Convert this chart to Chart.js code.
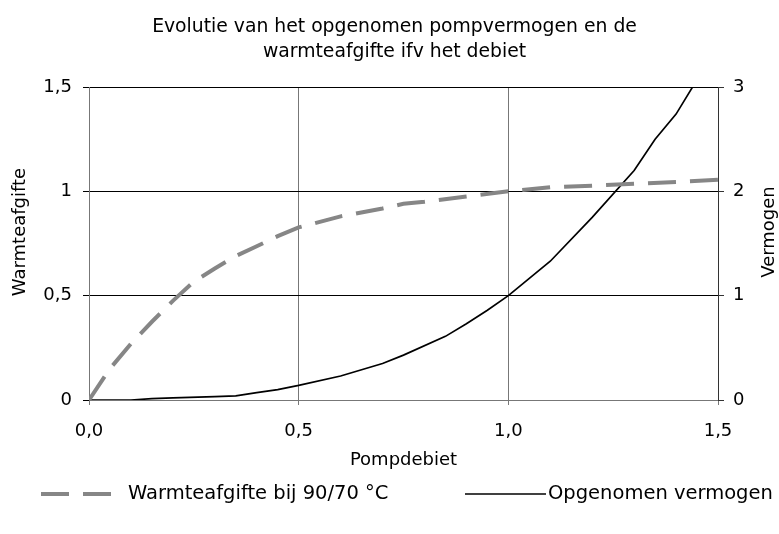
<!DOCTYPE html>
<html>
<head>
<meta charset="utf-8">
<script src="https://cdn.jsdelivr.net/npm/chart.js@4/dist/chart.umd.min.js"></script>
<style>
  body { margin: 0; background: #fff; }
  #wrap { width: 779px; height: 534px; }
</style>
</head>
<body>
<div id="wrap"><canvas id="grafiek"></canvas></div>
<script>
// data
const debietWarmte = [0, 0.05, 0.1, 0.15, 0.2, 0.25, 0.3, 0.35, 0.4, 0.45, 0.5, 0.6, 0.7, 0.75, 0.8, 0.9, 1.0, 1.1, 1.2, 1.3, 1.4, 1.5]
const warmteafgifte = [0, 0.15, 0.27, 0.375, 0.475, 0.567, 0.63, 0.69, 0.737, 0.785, 0.827, 0.88, 0.918, 0.94, 0.95, 0.975, 1.0, 1.02, 1.027, 1.036, 1.045, 1.055]

const debietVermogen = [0, 0.1, 0.15, 0.2, 0.3, 0.35, 0.4, 0.45, 0.5, 0.6, 0.7, 0.75, 0.85, 0.9, 0.95, 1.0, 1.1, 1.2, 1.3, 1.35, 1.4, 1.45]
const vermogen = [0, 0, 0.013, 0.02, 0.033, 0.04, 0.07, 0.1, 0.14, 0.23, 0.35, 0.43, 0.61, 0.73, 0.86, 1.0, 1.33, 1.75, 2.2, 2.5, 2.74, 3.07]

const xTicks = [0, 0.5, 1.0, 1.5]
const yLinksTicks = [0, 0.5, 1, 1.5]
const yRechtsTicks = [0, 1, 2, 3]

const titel = ['Evolutie van het opgenomen pompvermogen en de', 'warmteafgifte ifv het debiet']
const labels = ['Warmteafgifte bij 90/70 °C', 'Opgenomen vermogen']

const grijs = '#868686'
const lijnGrijs = '#777'
const fontNaam = 'DejaVu Sans'

Chart.defaults.font.family = fontNaam
Chart.defaults.font.size = 18
Chart.defaults.color = '#000'

const komma = v => String(v).replace('.', ',')

// as-titels (leesrichting van onder naar boven) en legende zelf tekenen
const extraTekst = {
    id: 'extraTekst',
    afterDraw(chart) {
        const ctx = chart.ctx
        ctx.save()
        ctx.font = `18px "${fontNaam}"`
        ctx.fillStyle = '#000'
        ctx.textBaseline = 'middle'

        const asTitels = [[20, 'Warmteafgifte'], [769, 'Vermogen']]
        asTitels.forEach(([x, tekst]) => {
            ctx.save()
            ctx.translate(x, 232)
            ctx.rotate(-Math.PI / 2)
            ctx.textAlign = 'center'
            ctx.fillText(tekst, 0, 0)
            ctx.restore()
        })

        // legende
        ctx.font = `19.5px "${fontNaam}"`
        const legY = 494
        const items = [
            { x0: 41, x1: 115, tx: 128 },
            { x0: 465, x1: 546, tx: 548 }
        ]
        chart.data.datasets.forEach((ds, i) => {
            const it = items[i]
            ctx.save()
            ctx.strokeStyle = ds.borderColor
            ctx.lineWidth = ds.borderWidth
            ctx.setLineDash(ds.borderDash || [])
            ctx.beginPath()
            ctx.moveTo(it.x0, legY)
            ctx.lineTo(it.x1, legY)
            ctx.stroke()
            ctx.restore()
            ctx.textAlign = 'left'
            ctx.fillText(ds.label, it.tx, legY)
        })
        ctx.restore()
    }
}

new Chart(document.getElementById('grafiek'), {
    type: 'scatter',
    data: {
        datasets: [{
            label: labels[0],
            data: debietWarmte.map((x, i) => ({ x, y: warmteafgifte[i] })),
            yAxisID: 'y',
            showLine: true,
            borderColor: grijs,
            backgroundColor: grijs,
            borderWidth: 4,
            borderDash: [28, 14],
            pointRadius: 0,
            tension: 0
        },
        {
            label: labels[1],
            data: debietVermogen.map((x, i) => ({ x, y: vermogen[i] })),
            yAxisID: 'y2',
            showLine: true,
            borderColor: '#000',
            backgroundColor: '#000',
            borderWidth: 1.7,
            pointRadius: 0,
            tension: 0
        }]
    },
    options: {
        responsive: true,
        maintainAspectRatio: false,
        animation: false,
        layout: { padding: { left: 10, right: 0, top: 0, bottom: 54 } },
        plugins: {
            legend: { display: false },
            tooltip: { enabled: false },
            title: {
                display: true,
                text: titel,
                color: '#000',
                font: { size: 18.8, weight: 'normal', lineHeight: 25 / 18.8 },
                padding: { top: 14.5, bottom: 22.5 }
            }
        },
        scales: {
            x: {
                type: 'linear',
                min: 0,
                max: 1.5,
                afterBuildTicks: s => { s.ticks = xTicks.map(v => ({ value: v })) },
                afterFit: s => { s.height = 80 },
                ticks: { padding: 16, callback: v => v.toFixed(1).replace('.', ',') },
                grid: {
                    color: c => c.tick && c.tick.value === 1.5 ? '#333' : lijnGrijs,
                    tickColor: lijnGrijs,
                    tickLength: 5
                },
                border: { color: lijnGrijs },
                title: { display: true, text: 'Pompdebiet', padding: { top: 0, bottom: 9 } }
            },
            y: {
                position: 'left',
                min: 0,
                max: 1.5,
                afterBuildTicks: s => { s.ticks = yLinksTicks.map(v => ({ value: v })) },
                afterFit: s => { s.width = 79 },
                ticks: { padding: 11, callback: v => komma(v) },
                grid: {
                    color: c => c.tick && c.tick.value === 0 ? lijnGrijs : '#000',
                    tickColor: '#000',
                    tickLength: 6
                },
                border: { color: lijnGrijs }
            },
            y2: {
                position: 'right',
                min: 0,
                max: 3,
                afterBuildTicks: s => { s.ticks = yRechtsTicks.map(v => ({ value: v })) },
                afterFit: s => { s.width = 61 },
                ticks: { padding: 9, callback: v => komma(v) },
                grid: { drawOnChartArea: false, tickColor: '#333', tickLength: 6 },
                border: { color: '#333' }
            }
        }
    },
    plugins: [extraTekst]
})
</script>
</body>
</html>
